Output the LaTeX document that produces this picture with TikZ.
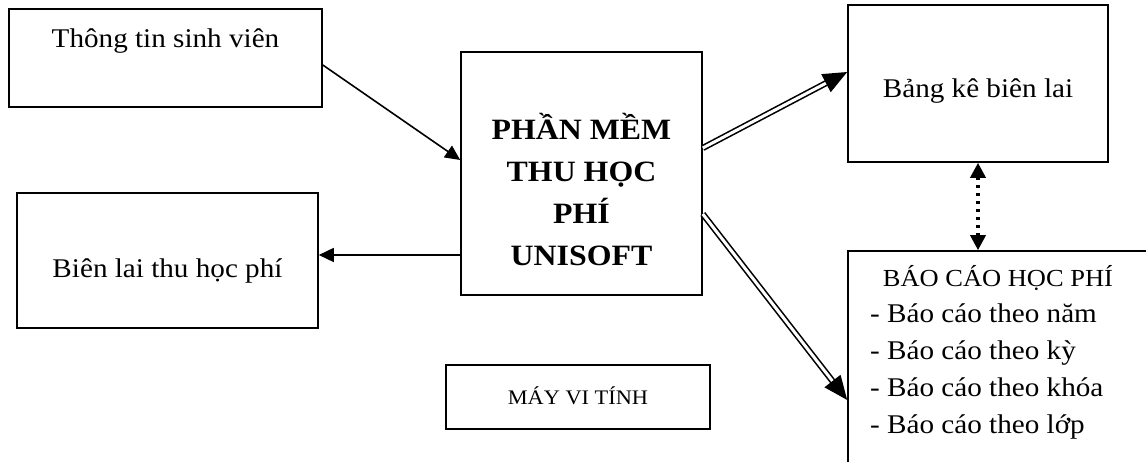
\documentclass[tikz,border=0pt]{standalone}
\usepackage{fontspec}
\setmainfont{Liberation Serif}[FakeStretch=1.08]
\usetikzlibrary{arrows.meta}
\begin{document}
\begin{tikzpicture}[x=1pt,y=-1pt,
  frame/.style={draw, line width=1.6pt, rectangle, inner sep=0pt},
  lbl/.style={inner sep=0pt, anchor=base, font=\fontsize{27}{37}\selectfont},
  flow/.style={line width=1.6pt, -{Triangle[length=15pt,width=14pt]}},
  dbl/.style={double, double distance=3pt, line width=1.6pt,
    -{Triangle[length=24pt,width=20pt]}},
  dots/.style={line width=3.5pt, dash pattern=on 3pt off 5pt,
    {Triangle[length=15pt,width=15pt]}-{Triangle[length=15pt,width=15pt]}}
]
\clip (0,0) rectangle (1146,462);

% boxes
\node[frame, minimum width=313pt, minimum height=98pt]  (sv)  at (165.5,58)  {};
\node[frame, minimum width=301pt, minimum height=135pt] (bl)  at (167.5,260.5) {};
\node[frame, minimum width=241pt, minimum height=243pt] (cen) at (581.5,173.5) {};
\node[frame, minimum width=260pt, minimum height=157pt] (bk)  at (978,83.5) {};
\node[frame, minimum width=264pt, minimum height=64pt]  (may) at (578,397) {};
\node[frame, minimum width=330pt, minimum height=240pt] (bao) at (1013,371) {};

% labels
\node[lbl] (svt)  at (165.5,48) {Thông tin sinh viên};
\node[lbl] (blt)  at (167.5,278) {Biên lai thu học phí};
\node[inner sep=0pt, anchor=base, font=\fontsize{29.5}{41.7}\selectfont\bfseries] (cent) at (581.5,140)
  {\begin{tabular}[t]{@{}c@{}}PHẦN MỀM\\THU HỌC\\PHÍ\\UNISOFT\end{tabular}};
\node[lbl] (bkt)  at (978,98) {Bảng kê biên lai};
\node[lbl, font=\fontsize{20.7}{24}\selectfont] (mayt) at (578,404) {MÁY VI TÍNH};
\node[lbl, font=\fontsize{24.5}{30}\selectfont] (baoh) at (998,287) {BÁO CÁO HỌC PHÍ};
\node[lbl, anchor=base west] (baol) at (870,323)
  {\begin{tabular}[t]{@{}l@{}}- Báo cáo theo năm\\- Báo cáo theo kỳ\\- Báo cáo theo khóa\\- Báo cáo theo lớp\end{tabular}};

% connectors
\draw[flow] ([yshift=-7pt]sv.east) -- ([yshift=13.5pt]cen.west);
\coordinate (outl) at ([yshift=-81.5pt]cen.west);
\draw[flow] (outl) -- (outl -| bl.east);
\draw[dbl] ([yshift=25.5pt]cen.east) -- ([yshift=11.5pt]bk.west);
\draw[dbl] ([yshift=-40.5pt]cen.east) -- ([yshift=-29pt]bao.west);
\draw[dots] (bk.south) -- (bk.south |- bao.north);
\end{tikzpicture}
\end{document}
